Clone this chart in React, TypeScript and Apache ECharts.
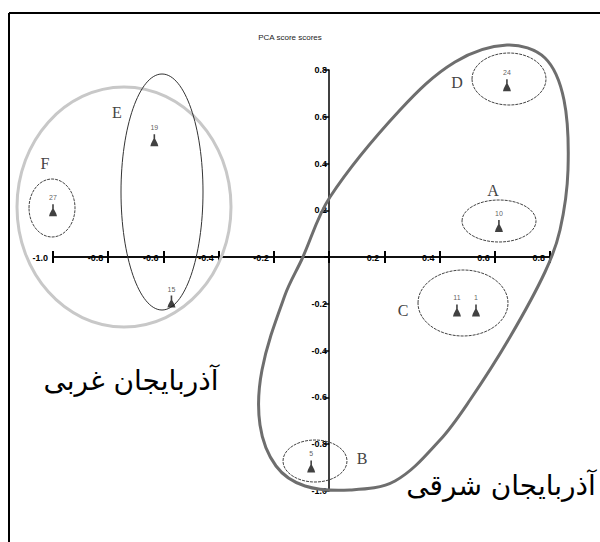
import React, { useEffect, useRef } from "react";
import * as echarts from "echarts";

// PCA score values
const sampleLabels = ["27", "19", "15", "24", "10", "11", "1", "5"];
const sampleX = [-1.0, -0.633, -0.571, 0.644, 0.615, 0.463, 0.532, -0.065];
const sampleY = [0.2, 0.5, -0.19, 0.735, 0.133, -0.228, -0.228, -0.895];

const axisMin = -1.0;
const axisMax = 0.8;
const axisStep = 0.2;

const titleText = "PCA score scores";
const westLabel = "آذربایجان غربی";
const eastLabel = "آذربایجان شرقی";

const fmt = (v: number) => (Math.abs(v) < 1e-9 ? "" : v.toFixed(1));

const GRID = { left: 53, top: 70, width: 497, height: 421 };

export default function App() {
  const ref = useRef<HTMLDivElement>(null);
  useEffect(() => {
    if (!ref.current) return;
    const chart = echarts.init(ref.current, undefined, { renderer: "svg" });
    const serif = '"Liberation Serif", "DejaVu Serif", serif';
    // distance of the zero lines from the grid edges
    const xZeroFromLeft = ((0 - axisMin) / (axisMax - axisMin)) * GRID.width;
    const yZeroFromBottom = ((0 - axisMin) / (axisMax - axisMin)) * GRID.height;
    const letter = (t: string, x: number, y: number) => ({
      type: "text",
      x,
      y,
      z: 10,
      style: {
        text: t,
        fontSize: 16,
        fontFamily: serif,
        fill: "#444",
        align: "center",
        verticalAlign: "middle",
        textAlign: "center",
        textVerticalAlign: "middle",
      },
    });
    const ell = (cx: number, cy: number, rx: number, ry: number, stroke: string, lw: number, dash?: number[]) => ({
      type: "ellipse",
      z: 5,
      shape: { cx, cy, rx, ry },
      style: { fill: "none", stroke, lineWidth: lw, lineDash: dash },
    });
    const xBase = {
      type: "value",
      min: axisMin,
      max: axisMax,
      interval: axisStep,
      position: "bottom",
      offset: -yZeroFromBottom,
      splitLine: { show: false },
      axisLine: { onZero: false, lineStyle: { color: "#000", width: 1.5 } },
    };
    chart.setOption({
      animation: false,
      backgroundColor: "#fff",
      grid: {
        left: GRID.left,
        top: GRID.top,
        width: GRID.width,
        height: GRID.height,
        containLabel: false,
      },
      xAxis: [
        {
          ...xBase,
          axisTick: { show: true, length: 6, lineStyle: { color: "#000", width: 2 } },
          axisLabel: {
            formatter: fmt,
            fontSize: 9,
            fontWeight: "bold",
            fontFamily: "Arial, Liberation Sans, sans-serif",
            color: "#000",
            align: "right",
            verticalAlign: "middle",
            margin: 1,
            padding: [0, 5, 0, 0],
          },
        },
        {
          ...xBase,
          axisTick: { show: true, inside: true, length: 6, lineStyle: { color: "#000", width: 2 } },
          axisLabel: { show: false },
        },
      ],
      yAxis: {
        type: "value",
        min: axisMin,
        max: axisMax,
        interval: axisStep,
        position: "left",
        offset: -xZeroFromLeft,
        splitLine: { show: false },
        axisLine: { onZero: false, lineStyle: { color: "#000", width: 1.5 } },
        axisTick: { show: true, length: 5, lineStyle: { color: "#000", width: 1.5 } },
        axisLabel: {
          formatter: fmt,
          fontSize: 9,
          fontWeight: "bold",
          fontFamily: "Arial, Liberation Sans, sans-serif",
          color: "#000",
          margin: 2,
        },
      },
      series: [
        {
          type: "scatter",
          xAxisIndex: 0,
          yAxisIndex: 0,
          symbol: "path://M4,0 L6,0 L6,5 L9,10 L10,13 L0,13 L1,10 L4,5 Z",
          symbolSize: [8, 12],
          itemStyle: { color: "#111" },
          z: 20,
          label: {
            show: true,
            position: "top",
            distance: 3,
            fontSize: 7,
            color: "#333",
            formatter: (p: any) => p.data[2],
          },
          data: sampleX.map((x, i) => [x, sampleY[i], sampleLabels[i]]),
        },
      ],
      graphic: [
        { type: "line", shape: { x1: 9, y1: 13, x2: 600, y2: 13 }, style: { stroke: "#000", lineWidth: 2 } },
        { type: "line", shape: { x1: 9, y1: 13, x2: 9, y2: 542 }, style: { stroke: "#000", lineWidth: 2 } },
        {
          type: "text",
          x: 290,
          y: 37,
          style: {
            text: titleText,
            fontSize: 8,
            fontFamily: "Arial, Liberation Sans, sans-serif",
            fill: "#222",
            align: "center",
            verticalAlign: "middle",
            textAlign: "center",
            textVerticalAlign: "middle",
          },
        },
        ell(124, 207, 107, 120, "#c8c8c8", 3),
        ell(162, 192, 41, 118, "#333", 1),
        ell(52, 208, 23, 29, "#444", 1, [3, 1]),
        ell(509, 79, 37, 26, "#444", 1, [3, 1]),
        ell(499, 221, 37, 21, "#444", 1, [3, 1]),
        ell(463, 303, 45, 33, "#444", 1, [3, 1]),
        ell(315, 461, 32, 21, "#444", 1, [3, 1]),
        {
          type: "polygon",
          z: 5,
          shape: {
            points: [
              [507, 45], [545, 58], [564, 100], [568, 170], [560, 230], [545, 272], [510, 337],
              [470, 400], [440, 440], [395, 481], [350, 490], [305, 486], [276, 466], [260, 425],
              [262, 370], [285, 295], [302, 259], [330, 197], [400, 110], [455, 62],
            ],
            smooth: 0.35,
          },
          style: { fill: "none", stroke: "#6e6e6e", lineWidth: 3 },
        },
        letter("E", 117, 112),
        letter("F", 45, 163),
        letter("D", 457, 82),
        letter("A", 493, 190),
        letter("C", 403, 310),
        letter("B", 362, 458),
        {
          type: "text",
          x: 131,
          y: 380,
          z: 10,
          style: {
            text: westLabel,
            fontSize: 28,
            fontFamily: '"DejaVu Sans", sans-serif',
            fill: "#000",
            align: "center",
            verticalAlign: "middle",
            textAlign: "center",
            textVerticalAlign: "middle",
          },
        },
        {
          type: "text",
          x: 501,
          y: 485,
          z: 10,
          style: {
            text: eastLabel,
            fontSize: 28,
            fontFamily: '"DejaVu Sans", sans-serif',
            fill: "#000",
            align: "center",
            verticalAlign: "middle",
            textAlign: "center",
            textVerticalAlign: "middle",
          },
        },
      ],
    });
    return () => chart.dispose();
  }, []);
  return (
    <div
      ref={ref}
      style={{ position: "absolute", left: 0, top: 0, width: 600, height: 542, background: "#fff" }}
    />
  );
}
